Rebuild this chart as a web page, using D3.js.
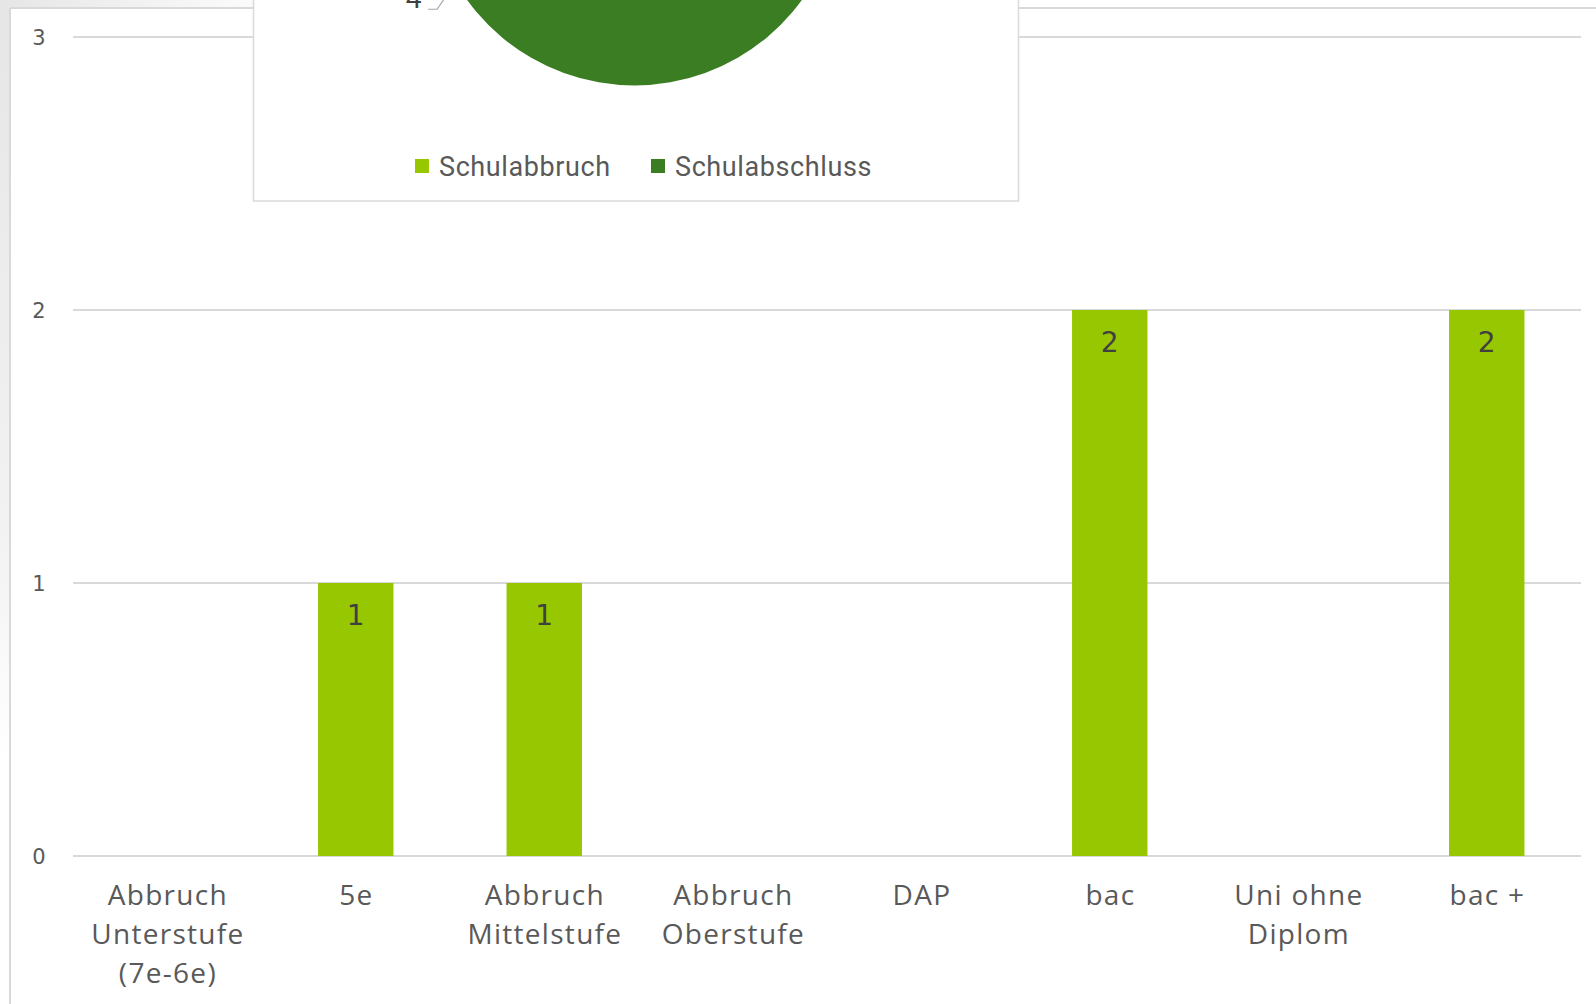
<!DOCTYPE html>
<html>
<head>
<meta charset="utf-8">
<script src="https://cdn.jsdelivr.net/npm/d3@7"></script>
<style>
  html, body { margin: 0; padding: 0; background: #ffffff; overflow: hidden; }
  svg { display: block; }
</style>
</head>
<body>
<svg id="chart" width="1596" height="1004"></svg>
<script>
// ---- data ----
const categories = [
  ["Abbruch", "Unterstufe", "(7e-6e)"],
  ["5e"],
  ["Abbruch", "Mittelstufe"],
  ["Abbruch", "Oberstufe"],
  ["DAP"],
  ["bac"],
  ["Uni ohne", "Diplom"],
  ["bac +"]
];
const categoryKeys = ["Abbruch Unterstufe (7e-6e)", "5e", "Abbruch Mittelstufe", "Abbruch Oberstufe", "DAP", "bac", "Uni ohne Diplom", "bac +"];
const barValues = [0, 1, 1, 0, 0, 2, 0, 2];
const yTicks = [0, 1, 2, 3];
const pieLabels = ["Schulabbruch", "Schulabschluss"];
const pieValues = [2, 4];
const pieColors = ["#97c700", "#3a7d22"];

// ---- drawing ----
const svg = d3.select("#chart");
const W = 1596, H = 1004;
const textColor = "#595959";
const gridColor = "#d9d9d9";

// soft shadow at the top-left margin
const defs = svg.append("defs");
const gV = defs.append("linearGradient").attr("id", "shadeV").attr("x1", 0).attr("x2", 0).attr("y1", 0).attr("y2", 1);
gV.append("stop").attr("offset", "0%").attr("stop-color", "#e6e6e6");
gV.append("stop").attr("offset", "70%").attr("stop-color", "#f2f2f2");
gV.append("stop").attr("offset", "100%").attr("stop-color", "#ffffff");
const gH = defs.append("linearGradient").attr("id", "shadeH").attr("x1", 0).attr("x2", 1).attr("y1", 0).attr("y2", 0);
gH.append("stop").attr("offset", "0%").attr("stop-color", "#e6e6e6");
gH.append("stop").attr("offset", "100%").attr("stop-color", "#ffffff");
svg.append("rect").attr("x", 0).attr("y", 0).attr("width", 10).attr("height", 760).attr("fill", "url(#shadeV)");
svg.append("rect").attr("x", 0).attr("y", 0).attr("width", 300).attr("height", 8).attr("fill", "url(#shadeH)");

// chart frame
svg.append("line").attr("x1", 10).attr("x2", W).attr("y1", 8).attr("y2", 8)
  .attr("stroke", gridColor).attr("stroke-width", 2);
svg.append("line").attr("x1", 10).attr("x2", 10).attr("y1", 8).attr("y2", H)
  .attr("stroke", gridColor).attr("stroke-width", 2);

const x = d3.scaleBand().domain(categoryKeys).range([73, 1581]).paddingInner(0.6).paddingOuter(0.3);
const y = d3.scaleLinear().domain([0, 3]).range([856, 37]);

// gridlines
svg.append("g").selectAll("line").data(yTicks).join("line")
  .attr("x1", 73).attr("x2", 1581)
  .attr("y1", d => y(d)).attr("y2", d => y(d))
  .attr("stroke", gridColor).attr("stroke-width", 2);

// y tick labels
svg.append("g").selectAll("text").data(yTicks).join("text")
  .attr("x", 39).attr("y", d => y(d)).attr("dy", "0.36em")
  .attr("text-anchor", "middle")
  .attr("font-family", "'DejaVu Sans', sans-serif").attr("font-size", 21)
  .attr("fill", textColor)
  .text(d => d);

const barData = barValues.map((v, i) => ({k: categoryKeys[i], v})).filter(d => d.v > 0);

// bars
svg.append("g").selectAll("rect").data(barData).join("rect")
  .attr("x", d => x(d.k)).attr("width", x.bandwidth())
  .attr("y", d => y(d.v)).attr("height", d => y(0) - y(d.v))
  .attr("fill", "#97c700");

// bar value labels
svg.append("g").selectAll("text").data(barData).join("text")
  .attr("x", d => x(d.k) + x.bandwidth() / 2)
  .attr("y", d => y(d.v) + 32).attr("dy", "0.36em")
  .attr("text-anchor", "middle")
  .attr("font-family", "'DejaVu Sans', sans-serif").attr("font-size", 28)
  .attr("fill", "#404040")
  .text(d => d.v);

// x category labels
const ls = 1.3;
const xl = svg.append("g");
categories.forEach((lines, i) => {
  const cx = x(categoryKeys[i]) + x.bandwidth() / 2 + ls / 2;
  const t = xl.append("text")
    .attr("text-anchor", "middle")
    .attr("font-family", "'Open Sans', sans-serif").attr("font-size", 28)
    .attr("letter-spacing", ls)
    .attr("fill", textColor);
  lines.forEach((ln, j) => {
    t.append("tspan").attr("x", cx).attr("y", 905 + j * 39).text(ln);
  });
});

// ---- overlay pie chart box ----
svg.append("rect").attr("x", 253.5).attr("y", -20).attr("width", 765).attr("height", 221)
  .attr("fill", "#ffffff").attr("stroke", gridColor).attr("stroke-width", 1.5);

const pc = {x: 634.5, y: -121};
const R = 206.5;
const pie = d3.pie().sort(null).startAngle(0).endAngle(2 * Math.PI);
const arcs = pie(pieValues);
const arc = d3.arc().innerRadius(0).outerRadius(R);
const pg = svg.append("g").attr("transform", `translate(${pc.x},${pc.y})`);
pg.selectAll("path").data(arcs).join("path")
  .attr("d", arc).attr("fill", (d, i) => pieColors[i]);

// pie data labels with leader lines
arcs.forEach((a, i) => {
  const mid = (a.startAngle + a.endAngle) / 2;
  const ex = Math.sin(mid) * R, ey = -Math.cos(mid) * R;
  const lx = Math.sin(mid) * (R + 48), ly = -Math.cos(mid) * (R + 48);
  const side = Math.sin(mid) < 0 ? -1 : 1;
  pg.append("polyline")
    .attr("points", [[ex, ey], [lx - side * 23, ly + 3], [lx - side * 14, ly + 3]].map(p => p.join(",")).join(" "))
    .attr("fill", "none").attr("stroke", "#a6a6a6").attr("stroke-width", 1.2);
  pg.append("text")
    .attr("x", lx).attr("y", ly - 8).attr("dy", "0.36em")
    .attr("text-anchor", "middle")
    .attr("font-family", "Roboto, sans-serif").attr("font-size", 28)
    .attr("letter-spacing", 1)
    .attr("fill", "#404040")
    .text(pieValues[i]);
});

// legend
const legX = [415, 651];
const lg = svg.append("g");
pieLabels.forEach((name, i) => {
  lg.append("rect").attr("x", legX[i]).attr("y", 159).attr("width", 14).attr("height", 14).attr("fill", pieColors[i]);
  lg.append("text").attr("x", legX[i] + 24).attr("y", 166).attr("dy", "0.36em")
    .attr("font-family", "Roboto, sans-serif").attr("font-size", 27)
    .attr("letter-spacing", 0.6)
    .attr("fill", textColor).text(name);
});
</script>
</body>
</html>
